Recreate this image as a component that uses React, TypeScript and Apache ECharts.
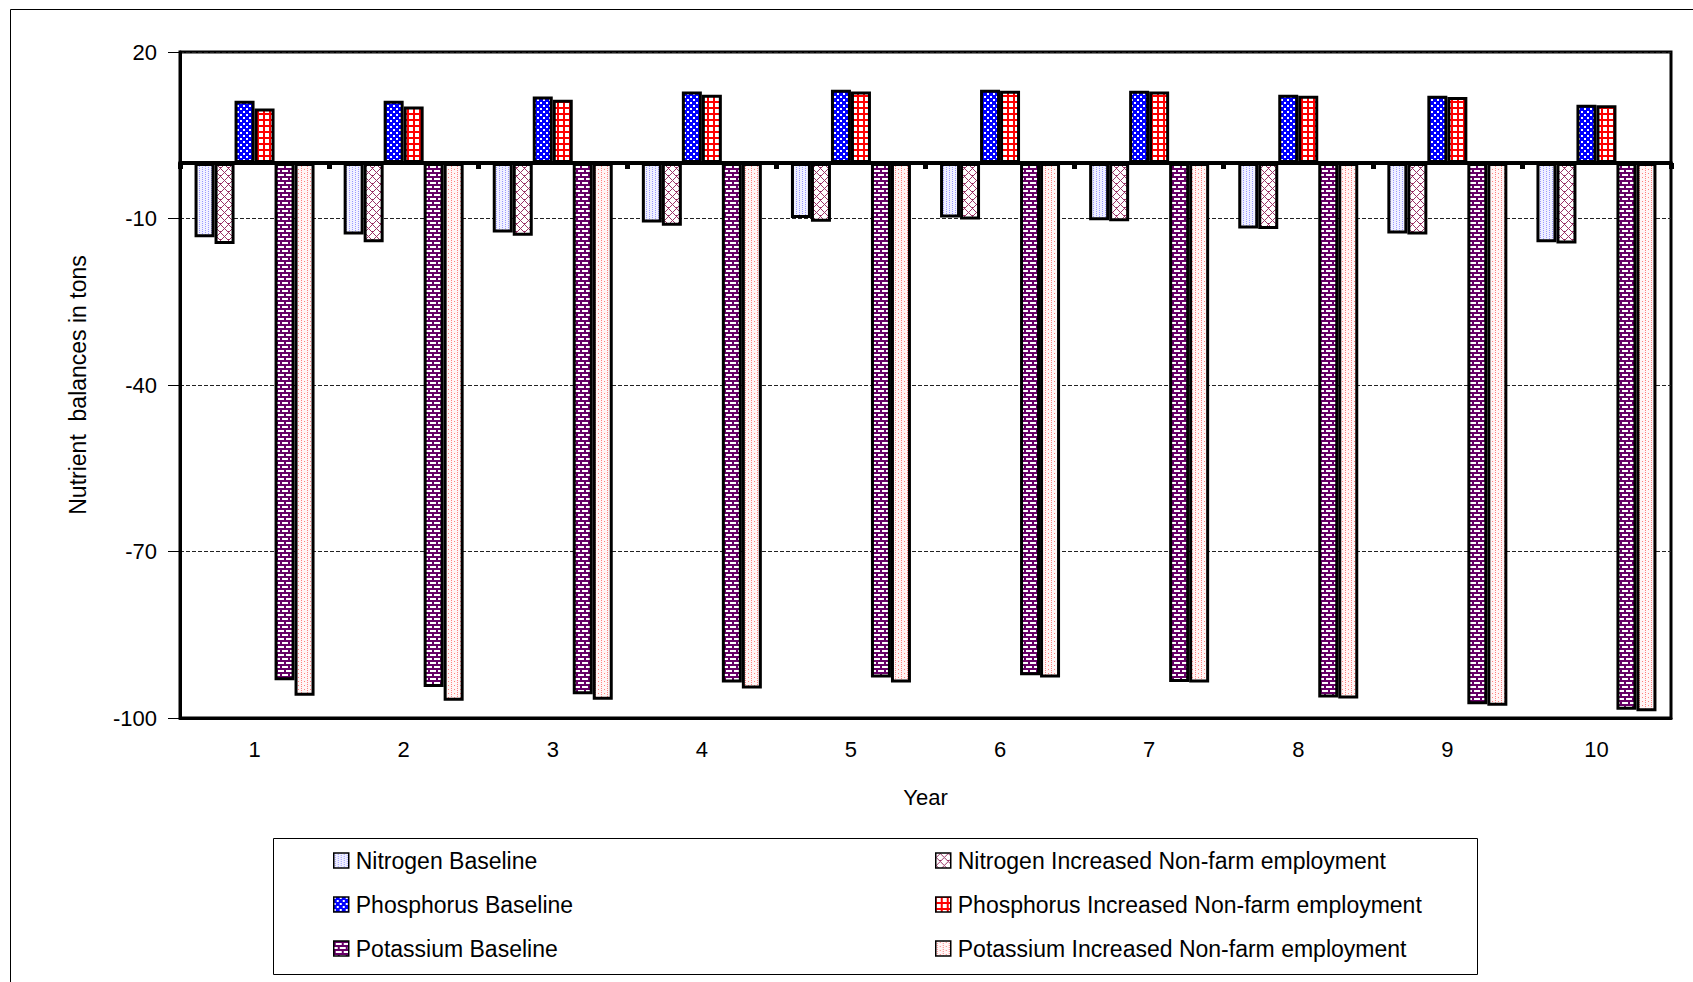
import React, { useEffect, useRef } from "react";
import * as echarts from "echarts";

const years = ["1", "2", "3", "4", "5", "6", "7", "8", "9", "10"];
const seriesNames = [
  "Nitrogen Baseline",
  "Nitrogen Increased Non-farm employment",
  "Phosphorus Baseline",
  "Phosphorus Increased Non-farm employment",
  "Potassium Baseline",
  "Potassium Increased Non-farm employment",
];
const nitrogenBaseline = [-13.4, -12.9, -12.5, -10.7, -9.9, -9.8, -10.3, -11.8, -12.7, -14.3];
const nitrogenIncreased = [-14.6, -14.3, -13.1, -11.3, -10.6, -10.2, -10.5, -11.9, -12.9, -14.5];
const phosphorusBaseline = [11.2, 11.2, 12.0, 12.9, 13.2, 13.2, 13.0, 12.3, 12.1, 10.5];
const phosphorusIncreased = [9.8, 10.2, 11.4, 12.3, 12.9, 13.0, 12.9, 12.1, 11.9, 10.4];
const potassiumBaseline = [-93.2, -94.4, -95.7, -93.6, -92.7, -92.3, -93.5, -96.3, -97.5, -98.5];
const potassiumIncreased = [-96.0, -96.9, -96.7, -94.7, -93.6, -92.7, -93.6, -96.5, -97.8, -98.8];
const yMin = -100;
const yMax = 20;
const yStep = 30;

function makePattern(w: number, h: number, draw: (c: CanvasRenderingContext2D) => void) {
  const cv = document.createElement("canvas");
  cv.width = w;
  cv.height = h;
  const ctx = cv.getContext("2d")!;
  draw(ctx);
  return { image: cv, repeat: "repeat", imageWidth: w, imageHeight: h } as any;
}

function buildPatterns() {
  const nBase = makePattern(6, 4, (c) => {
    c.fillStyle = "#f0f0ff";
    c.fillRect(0, 0, 6, 4);
    c.fillStyle = "#9999ff";
    c.fillRect(1, 0, 1, 1);
    c.fillRect(1, 2, 1, 1);
    c.fillRect(4, 1, 1, 1);
    c.fillRect(4, 3, 1, 1);
  });
  const nIncr = makePattern(8, 8, (c) => {
    c.fillStyle = "#ffffff";
    c.fillRect(0, 0, 8, 8);
    c.fillStyle = "#993366";
    const pts = [
      [0, 4], [1, 3], [2, 2], [3, 1], [4, 0], [5, 1], [6, 2], [7, 3],
      [7, 5], [6, 6], [5, 7], [4, 7], [3, 7], [2, 6], [1, 5],
    ];
    pts.forEach(([x, y]) => c.fillRect(x, y, 1, 1));
  });
  const pBase = makePattern(6, 6, (c) => {
    c.fillStyle = "#0000ff";
    c.fillRect(0, 0, 6, 6);
    c.fillStyle = "#ffffff";
    c.fillRect(0, 0, 2, 2);
    c.fillRect(3, 3, 2, 2);
  });
  const pIncr = makePattern(6, 6, (c) => {
    c.fillStyle = "#ff0000";
    c.fillRect(0, 0, 6, 6);
    c.fillStyle = "#ffffff";
    c.fillRect(1, 1, 4, 4);
  });
  const kBase = makePattern(8, 8, (c) => {
    c.fillStyle = "#ffffff";
    c.fillRect(0, 0, 8, 8);
    c.fillStyle = "#660066";
    c.fillRect(0, 0, 8, 2);
    c.fillRect(0, 4, 8, 2);
    c.fillRect(0, 2, 2, 2);
    c.fillRect(4, 6, 2, 2);
  });
  const kIncr = makePattern(6, 4, (c) => {
    c.fillStyle = "#fff5f5";
    c.fillRect(0, 0, 6, 4);
    c.fillStyle = "#ff8080";
    c.fillRect(1, 0, 1, 1);
    c.fillRect(1, 2, 1, 1);
    c.fillRect(4, 1, 1, 1);
  });
  return [nBase, nIncr, pBase, pIncr, kBase, kIncr];
}

export default function App() {
  const ref = useRef<HTMLDivElement>(null);
  useEffect(() => {
    document.body.style.margin = "0";
    document.body.style.overflow = "hidden";
    const chart = echarts.init(ref.current!, null, { renderer: "svg" });
    const patterns = buildPatterns();
    const values = [
      nitrogenBaseline,
      nitrogenIncreased,
      phosphorusBaseline,
      phosphorusIncreased,
      potassiumBaseline,
      potassiumIncreased,
    ];
    const font = "Liberation Sans, Arial, sans-serif";
    const legendCommon = {
      orient: "vertical",
      top: 849,
      padding: 0,
      itemWidth: 15,
      itemHeight: 15,
      itemGap: 21,
      icon: "rect",
      selectedMode: false,
      itemStyle: { borderColor: "#000", borderWidth: 1.5 },
      textStyle: { fontFamily: font, fontSize: 23, color: "#000", padding: [0, 0, 0, 2] },
    };
    chart.setOption({
      animation: false,
      backgroundColor: "#fff",
      textStyle: { fontFamily: font },
      graphic: [
        {
          type: "rect",
          shape: { x: 10.5, y: 9.5, width: 1700, height: 1000 },
          style: { fill: "none", stroke: "#000", lineWidth: 1 },
          silent: true,
        },
        {
          type: "rect",
          shape: { x: 273.5, y: 838.5, width: 1204, height: 136 },
          style: { fill: "none", stroke: "#000", lineWidth: 1 },
          silent: true,
        },
      ],
      legend: [
        { ...legendCommon, left: 333, data: [seriesNames[0], seriesNames[2], seriesNames[4]] },
        { ...legendCommon, left: 935, data: [seriesNames[1], seriesNames[3], seriesNames[5]] },
      ],
      grid: {
        left: 180,
        top: 52,
        right: 22,
        bottom: 264,
        show: true,
        borderColor: "#000",
        borderWidth: 3,
        backgroundColor: "transparent",
      },
      xAxis: [
        {
          type: "category",
          data: years,
          position: "bottom",
          name: "Year",
          nameLocation: "middle",
          nameGap: 68,
          nameTextStyle: { fontSize: 22, color: "#000", fontFamily: font },
          axisLine: { onZero: false, lineStyle: { color: "#000", width: 3 } },
          axisTick: { show: false },
          axisLabel: { fontSize: 22, color: "#000", margin: 20, fontFamily: font },
          splitLine: { show: false },
        },
        {
          type: "category",
          data: years,
          position: "bottom",
          z: 10,
          axisLine: { onZero: true, lineStyle: { color: "#000", width: 4 } },
          axisTick: { show: true, length: 6, lineStyle: { color: "#000", width: 5 } },
          axisLabel: { show: false },
          splitLine: { show: false },
        },
      ],
      yAxis: {
        type: "value",
        min: yMin,
        max: yMax,
        interval: yStep,
        name: "Nutrient  balances in tons",
        nameLocation: "middle",
        nameGap: 91,
        nameTextStyle: { fontSize: 23, color: "#000", fontFamily: font },
        axisLine: { show: true, lineStyle: { color: "#000", width: 3 } },
        axisTick: { show: true, length: 12, lineStyle: { color: "#000", width: 1 } },
        axisLabel: { fontSize: 22, color: "#000", margin: 23, fontFamily: font },
        splitLine: { show: true, lineStyle: { color: "#222", width: 1, type: [4, 2] } },
      },
      series: seriesNames.map((name, i) => ({
        name,
        type: "bar",
        xAxisIndex: 0,
        data: values[i],
        barWidth: 20,
        barGap: "0%",
        itemStyle: { color: patterns[i], borderColor: "#000", borderWidth: 3 },
      })),
    });
    return () => chart.dispose();
  }, []);
  return <div ref={ref} style={{ width: 1693, height: 982 }} />;
}
